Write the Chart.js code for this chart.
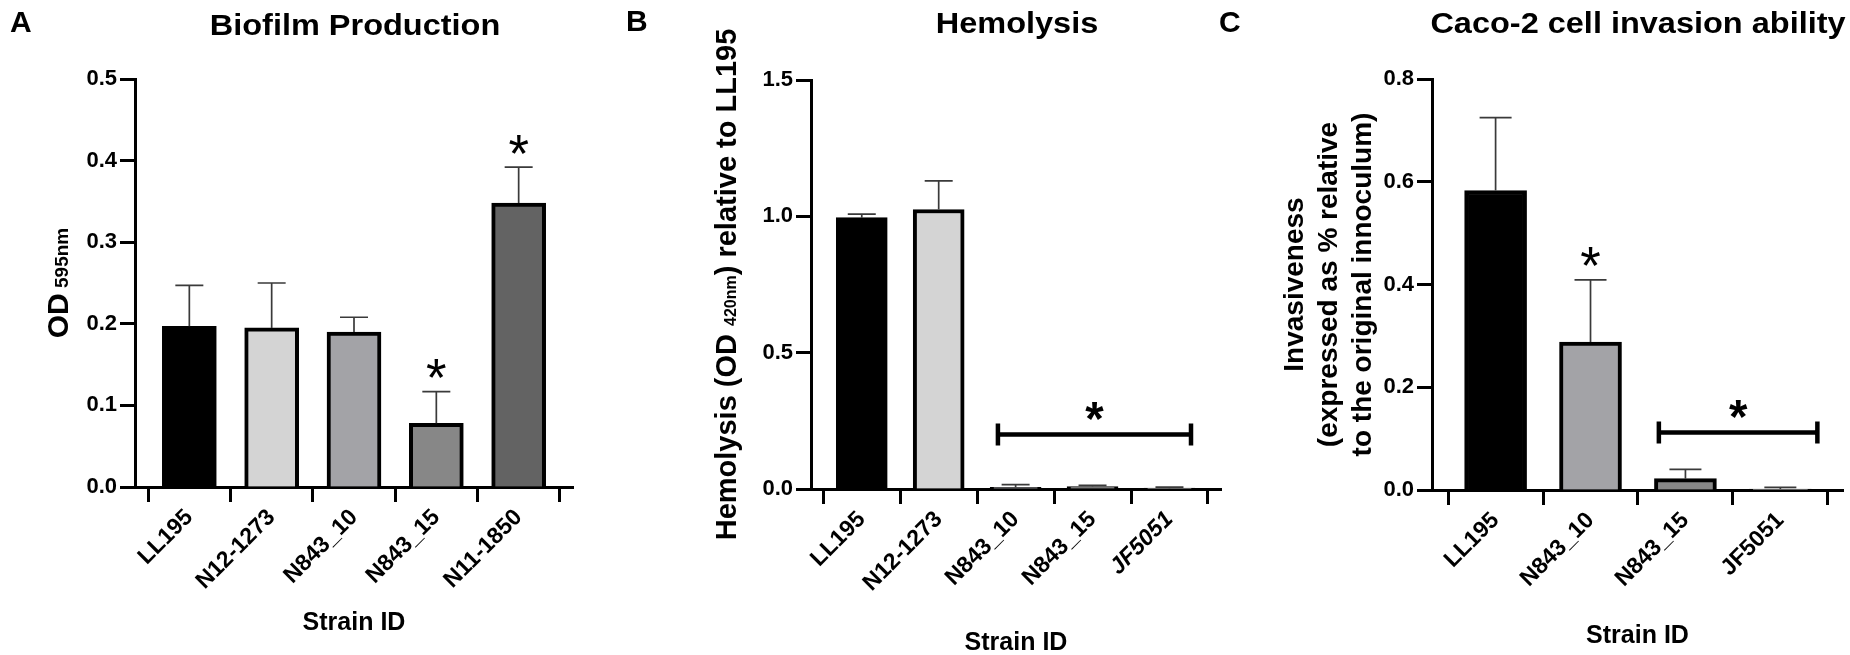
<!DOCTYPE html>
<html>
<head>
<meta charset="utf-8">
<script src="https://cdn.jsdelivr.net/npm/chart.js@4.4.0/dist/chart.umd.min.js"></script>
<style>
html,body{margin:0;padding:0;background:#fff;}
#wrap{position:relative;width:1850px;height:655px;overflow:hidden;background:#fff;}
canvas{position:absolute;top:0;}
</style>
</head>
<body>
<div id="wrap">
<canvas id="cA" style="left:0px" width="600" height="655"></canvas>
<canvas id="cB" style="left:600px" width="630" height="655"></canvas>
<canvas id="cC" style="left:1210px" width="640" height="655"></canvas>
</div>
<script>
// ---------------- DATA ----------------
// Panel A: Biofilm production (OD 595nm)
const biofilmStrains = ['LL195', 'N12-1273', 'N843_10', 'N843_15', 'N11-1850'];
const biofilmMean = [0.197, 0.195, 0.190, 0.078, 0.348];
const biofilmSD = [0.050, 0.055, 0.018, 0.039, 0.044];
const biofilmSignificant = [3, 4];
const biofilmYTicks = [0.0, 0.1, 0.2, 0.3, 0.4, 0.5];

// Panel B: Hemolysis relative to LL195
const hemoStrains = ['LL195', 'N12-1273', 'N843_10', 'N843_15', 'JF5051'];
const hemoMean = [0.995, 1.025, 0.006, 0.009, 0.003];
const hemoSD = [0.013, 0.105, 0.010, 0.004, 0.004];
const hemoGroup = [2, 4];
const hemoGroupLevel = 0.2;
const hemoYTicks = [0.0, 0.5, 1.0, 1.5];

// Panel C: Caco-2 cell invasion
const invStrains = ['LL195', 'N843_10', 'N843_15', 'JF5051'];
const invMean = [0.583, 0.288, 0.022, 0.002];
const invSD = [0.142, 0.121, 0.018, 0.003];
const invSignificant = [1];
const invGroup = [2, 3];
const invGroupLevel = 0.112;
const invYTicks = [0.0, 0.2, 0.4, 0.6, 0.8];

// ---------------- STYLE ----------------
const FONT = "'Liberation Sans', Arial, Helvetica, sans-serif";
Chart.defaults.color = '#000';
Chart.defaults.font.family = FONT;

function starAt(c, x, cy, weight, targetH) {
  c.font = weight + ' 100px ' + FONT;
  const m = c.measureText('*');
  const h = m.actualBoundingBoxAscent + m.actualBoundingBoxDescent;
  const s = 100 * targetH / h;
  c.font = weight + ' ' + s.toFixed(2) + 'px ' + FONT;
  const m2 = c.measureText('*');
  const base = cy + (m2.actualBoundingBoxAscent - m2.actualBoundingBoxDescent) / 2;
  c.textAlign = 'center';
  c.textBaseline = 'alphabetic';
  c.fillText('*', x, base);
}

function makeDecor(p) {
  return {
    id: 'decor' + p.key,
    afterDatasetsDraw(chart) {
      const c = chart.ctx, xs = chart.scales.x, ys = chart.scales.y;
      c.save();
      c.strokeStyle = '#3a3a3a';
      c.lineWidth = 1.7;
      p.mean.forEach((m, i) => {
        const x = xs.getPixelForValue(i);
        const y0 = ys.getPixelForValue(m);
        const y1 = ys.getPixelForValue(m + p.sd[i]);
        c.beginPath();
        c.moveTo(x, y0); c.lineTo(x, y1);
        c.moveTo(x - p.cap / 2, y1); c.lineTo(x + p.cap / 2, y1);
        c.stroke();
      });
      c.restore();
    },
    afterDraw(chart) {
      const c = chart.ctx, xs = chart.scales.x, ys = chart.scales.y, ca = chart.chartArea;
      c.save();
      c.fillStyle = '#000';
      c.textBaseline = 'alphabetic';
      // panel letter
      c.font = 'bold 30px ' + FONT;
      c.textAlign = 'left';
      c.fillText(p.letter, p.letterX, p.letterY);
      // title
      c.save();
      c.translate(p.titleX, p.titleY);
      c.scale(1.12, 1);
      c.font = 'bold 29px ' + FONT;
      c.textAlign = 'center';
      c.fillText(p.title, 0, 0);
      c.restore();
      // x title
      c.font = 'bold 25px ' + FONT;
      c.textAlign = 'center';
      c.fillText('Strain ID', (ca.left + ca.right) / 2, p.xTitleY);
      // y title (rotated, possibly mixed sizes)
      const cy = (ca.top + ca.bottom) / 2;
      p.yLines.forEach(line => {
        c.save();
        c.translate(line.x, cy);
        c.rotate(-Math.PI / 2);
        let total = 0;
        line.parts.forEach(pt => { c.font = 'bold ' + pt.size + 'px ' + FONT; pt.w = c.measureText(pt.t).width; total += pt.w; });
        let x = -total / 2;
        c.textAlign = 'left';
        line.parts.forEach(pt => { c.font = 'bold ' + pt.size + 'px ' + FONT; c.fillText(pt.t, x, pt.dy || 0); x += pt.w; });
        c.restore();
      });
      // significance stars above single bars
      (p.sig || []).forEach(i => {
        const x = xs.getPixelForValue(i);
        const y = ys.getPixelForValue(p.mean[i] + p.sd[i]) - 23;
        starAt(c, x, y, 'normal', 19);
      });
      // group bracket with bold star
      if (p.group) {
        const x0 = xs.getPixelForValue(p.group[0] - p.brL);
        const x1 = xs.getPixelForValue(p.group[1] + p.brR);
        const y = ys.getPixelForValue(p.groupLevel);
        c.strokeStyle = '#000';
        c.lineWidth = 4.5;
        c.lineCap = 'butt';
        c.beginPath();
        c.moveTo(x0, y); c.lineTo(x1, y);
        c.moveTo(x0, y - 11); c.lineTo(x0, y + 11);
        c.moveTo(x1, y - 11); c.lineTo(x1, y + 11);
        c.stroke();
        starAt(c, (x0 + x1) / 2, y - 23, 'bold', 18);
      }
      c.restore();
    }
  };
}

function makePanel(id, p) {
  const axisGrid = { display: true, drawOnChartArea: false, drawTicks: true, tickLength: 15, tickWidth: 3, tickColor: '#000' };
  const axisBorder = { display: true, color: '#000', width: 3 };
  return new Chart(document.getElementById(id), {
    type: 'bar',
    data: {
      datasets: [{
        data: p.strains.map((s, i) => ({ x: i, y: p.mean[i] })),
        backgroundColor: p.colors,
        borderColor: '#000',
        borderWidth: 4,
        borderSkipped: 'start',
        barThickness: p.barW
      }]
    },
    options: {
      responsive: false,
      animation: false,
      events: [],
      layout: { padding: { left: 0, right: p.padR, top: p.padT, bottom: 0 } },
      plugins: { legend: { display: false }, tooltip: { enabled: false }, title: { display: false } },
      scales: {
        x: {
          type: 'linear', offset: false, min: p.xMin, max: p.xMax, z: 1,
          afterBuildTicks: s => { s.ticks = p.strains.map((_, i) => ({ value: i })); },
          afterFit: s => { s.height = p.xH; },
          grid: axisGrid, border: axisBorder,
          ticks: {
            autoSkip: false, minRotation: 45, maxRotation: 45, padding: 2, color: '#000',
            callback: v => p.strains[v],
            font: ctx => ({ family: FONT, size: 23, weight: 'bold', style: (p.italic && p.italic[ctx.index]) ? 'italic' : 'normal' })
          }
        },
        y: {
          type: 'linear', min: p.yTicks[0], max: p.yTicks[p.yTicks.length - 1], z: 1,
          afterBuildTicks: s => { s.ticks = p.yTicks.map(v => ({ value: v })); },
          afterFit: s => { s.width = p.yW; },
          grid: axisGrid, border: axisBorder,
          ticks: { padding: 3, color: '#000', font: { family: FONT, size: 22, weight: 'bold' }, callback: v => Number(v).toFixed(1) }
        }
      }
    },
    plugins: [makeDecor(p)]
  });
}

makePanel('cA', {
  key: 'A', strains: biofilmStrains, mean: biofilmMean, sd: biofilmSD, sig: biofilmSignificant, yTicks: biofilmYTicks,
  colors: ['#000000', '#d4d4d4', '#a3a3a7', '#878787', '#636363'],
  barW: 54, cap: 28, xMin: -0.66, xMax: 4.66, yW: 135, xH: 168, padT: 79, padR: 27,
  letter: 'A', letterX: 10, letterY: 32, title: 'Biofilm Production', titleX: 355, titleY: 35, xTitleY: 630,
  yLines: [{ x: 68, parts: [{ t: 'OD', size: 30 }, { t: ' 595nm', size: 19 }] }]
});

makePanel('cB', {
  key: 'B', strains: hemoStrains, mean: hemoMean, sd: hemoSD, yTicks: hemoYTicks,
  group: hemoGroup, groupLevel: hemoGroupLevel, brL: 0.23, brR: 0.28,
  italic: [false, false, false, false, true],
  colors: ['#000000', '#d4d4d4', '#a3a3a7', '#878787', '#ffffff'],
  barW: 51, cap: 28, xMin: -0.66, xMax: 4.67, yW: 211, xH: 166, padT: 80, padR: 9,
  letter: 'B', letterX: 26, letterY: 31, title: 'Hemolysis', titleX: 417, titleY: 33, xTitleY: 650,
  yLines: [{ x: 136, parts: [{ t: 'Hemolysis (OD ', size: 29 }, { t: '420nm', size: 16 }, { t: ') relative to LL195', size: 29 }] }]
});

makePanel('cC', {
  key: 'C', strains: invStrains, mean: invMean, sd: invSD, sig: invSignificant, yTicks: invYTicks,
  group: invGroup, groupLevel: invGroupLevel, brL: 0.28, brR: 0.39,
  colors: ['#000000', '#a3a3a7', '#878787', '#ffffff'],
  barW: 62, cap: 32, xMin: -0.67, xMax: 3.66, yW: 222, xH: 165, padT: 79, padR: 7,
  letter: 'C', letterX: 9, letterY: 32, title: 'Caco-2 cell invasion ability', titleX: 428, titleY: 33, xTitleY: 643,
  yLines: [
    { x: 93, parts: [{ t: 'Invasiveness', size: 28 }] },
    { x: 127, parts: [{ t: '(expressed as % relative', size: 28 }] },
    { x: 161, parts: [{ t: 'to the original innoculum)', size: 28 }] }
  ]
});
</script>
</body>
</html>
